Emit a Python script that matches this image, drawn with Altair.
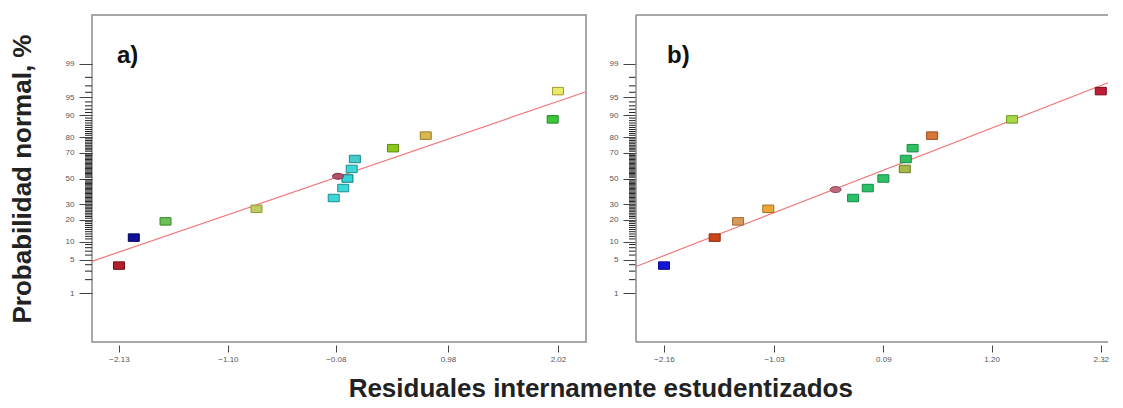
import altair as alt
import pandas as pd
from statistics import NormalDist

FONT = "Liberation Sans"
ND = NormalDist()

# ---------------- shared probability axis ----------------
major_pct = [1, 5, 10, 20, 30, 50, 70, 80, 90, 95, 99]
minor_pct = [p for p in range(2, 99) if p not in major_pct]
z_domain = [-3.32, 3.32]
major_z = [ND.inv_cdf(p / 100) for p in major_pct]

RECT = "M-1,-0.68L1,-0.68L1,0.68L-1,0.68Z"
OVAL = "M-1,0C-1,-0.72,1,-0.72,1,0C1,0.72,-1,0.72,-1,0Z"

# ---------------- panel a ----------------
a_resid = [-2.13, -1.99, -1.69, -0.83, -0.10, -0.01, 0.03, -0.06, 0.07, 0.10, 0.46, 0.77, 1.97, 2.02]
a_prob = [3.85, 11.5, 19.2, 26.9, 34.6, 42.3, 50.0, 51.8, 57.7, 65.4, 73.1, 80.8, 88.5, 96.2]
a_fill = ["#b3202b", "#10109a", "#6cc05a", "#c0cc60", "#3cd8d8", "#3cd8d8", "#30d4d8",
          "#b0506a", "#3cd8d8", "#44cccc", "#8cc81c", "#d8b850", "#3cc83c", "#ecea6a"]
a_edge = ["#6e1016", "#000060", "#3a8a30", "#8a9a30", "#1a9090", "#1a9090", "#127a80",
          "#803048", "#1a9090", "#1a8a8a", "#5a8a10", "#9a7a20", "#208a20", "#a09a30"]
a_kind = ["rect"] * 7 + ["oval"] + ["rect"] * 6
a_fit_x = [-2.385, 2.285]
a_fit_p = [4.63, 96.1]
a_xticks = [-2.13, -1.10, -0.08, 0.98, 2.02]
a_xdomain = [-2.385, 2.285]

# ---------------- panel b ----------------
b_resid = [-2.16, -1.64, -1.40, -1.09, -0.22, -0.07, -0.40, 0.09, 0.31, 0.32, 0.39, 0.59, 1.41, 2.32]
b_prob = [3.85, 11.5, 19.2, 26.9, 34.6, 42.3, 41.1, 50.0, 57.7, 65.4, 73.1, 80.8, 88.5, 96.2]
b_fill = ["#1414d8", "#cc4418", "#d89a58", "#e8a838", "#28c068", "#2cc064", "#c06a80",
          "#30c068", "#a8b848", "#30c060", "#30c060", "#d87838", "#a8d848", "#c01c34"]
b_edge = ["#0a0a90", "#8a2a0a", "#9a6a30", "#a07020", "#158a45", "#158a45", "#8a4050",
          "#158a45", "#6a7a20", "#158a45", "#158a45", "#9a4a18", "#6a9a20", "#800a1a"]
b_kind = ["rect"] * 6 + ["oval"] + ["rect"] * 7
b_fit_x = [-2.447, 2.394]
b_fit_p = [3.69, 97.41]
b_xticks = [-2.16, -1.03, 0.09, 1.20, 2.32]
b_xdomain = [-2.447, 2.394]

HEIGHT = 327
ZCALC = "quantileNormal(datum.p / 100)"


def panel(resid, prob, fill, edge, kind, fit_x, fit_p, xticks, xdomain,
          width, label, label_x, show_title, open_right):
    yscale = alt.Scale(domain=z_domain, nice=False, zero=False)
    xscale = alt.Scale(domain=xdomain, nice=False, zero=False)
    yaxis = alt.Axis(
        values=major_z,
        labelExpr="format(cumulativeNormal(datum.value) * 100, '.0f')",
        tickSize=13, domain=False, grid=False,
        labelFontSize=8, labelColor="#555", labelFont=FONT, labelPadding=5,
        tickColor="#444",
        title="Probabilidad normal, %" if show_title else None,
        titleFontSize=26, titleFont=FONT, titleFontWeight="bold",
        titleColor="#222", titlePadding=30,
    )
    xaxis = alt.Axis(
        values=xticks, format=".2f", title=None, tickSize=7, offset=3,
        domain=False, grid=False, labelFontSize=8, labelColor="#555",
        labelFont=FONT, tickColor="#444", labelPadding=3,
    )
    y_enc = alt.Y("z:Q", scale=yscale, axis=yaxis)
    x_enc = alt.X("r:Q", scale=xscale, axis=xaxis)

    minor = alt.Chart(pd.DataFrame({"p": minor_pct})).transform_calculate(
        z=ZCALC
    ).mark_rule(color="#222", strokeWidth=1).encode(
        y=y_enc, x=alt.value(-7), x2=alt.value(0)
    )

    fit = alt.Chart(pd.DataFrame({"r": fit_x, "p": fit_p})).transform_calculate(
        z=ZCALC
    ).mark_line(color="#f07878", strokeWidth=1.2).encode(x=x_enc, y=y_enc)

    shapes = [RECT if k == "rect" else OVAL for k in kind]
    pts_df = pd.DataFrame({"r": resid, "p": prob, "fill": fill, "edge": edge, "shape": shapes})
    pts = alt.Chart(pts_df).transform_calculate(z=ZCALC).mark_point(
        filled=True, size=121, strokeWidth=1, opacity=1
    ).encode(
        x=x_enc, y=y_enc,
        fill=alt.Fill("fill:N", scale=None),
        stroke=alt.Stroke("edge:N", scale=None),
        shape=alt.Shape("shape:N", scale=None),
    )

    txt = alt.Chart(pd.DataFrame({"t": [label]})).mark_text(
        font=FONT, fontSize=24, fontWeight="bold", align="left",
        baseline="middle", color="#111"
    ).encode(text="t:N", x=alt.value(label_x), y=alt.value(41))

    layers = [minor, fit, pts, txt]
    props = dict(width=width, height=HEIGHT)
    if open_right:
        one = pd.DataFrame({"k": [0]})
        fc = "#8c8c8c"
        top = alt.Chart(one).mark_rule(color=fc, strokeWidth=1.5).encode(
            x=alt.value(0), x2=alt.value(width), y=alt.value(0))
        bot = alt.Chart(one).mark_rule(color=fc, strokeWidth=1.5).encode(
            x=alt.value(0), x2=alt.value(width), y=alt.value(HEIGHT))
        left = alt.Chart(one).mark_rule(color=fc, strokeWidth=1.5).encode(
            x=alt.value(0), y=alt.value(0), y2=alt.value(HEIGHT))
        layers += [top, bot, left]
        props["view"] = alt.ViewBackground(stroke="transparent")
    return alt.layer(*layers).properties(**props)


pa = panel(a_resid, a_prob, a_fill, a_edge, a_kind, a_fit_x, a_fit_p,
           a_xticks, a_xdomain, 494, "a)", 25, True, False)
pb = panel(b_resid, b_prob, b_fill, b_edge, b_kind, b_fit_x, b_fit_p,
           b_xticks, b_xdomain, 472, "b)", 31, False, True)

chart = alt.hconcat(pa, pb, spacing=18).properties(
    title=alt.TitleParams(
        "Residuales internamente estudentizados", orient="bottom",
        anchor="middle", fontSize=26, font=FONT, fontWeight="bold",
        color="#222", offset=12, dx=41,
    ),
    padding={"left": 0, "top": 5, "right": 0, "bottom": 0},
).configure_view(stroke="#8c8c8c", strokeWidth=1.5)

chart.save("out.html", embed_options={"renderer": "svg", "actions": False})
